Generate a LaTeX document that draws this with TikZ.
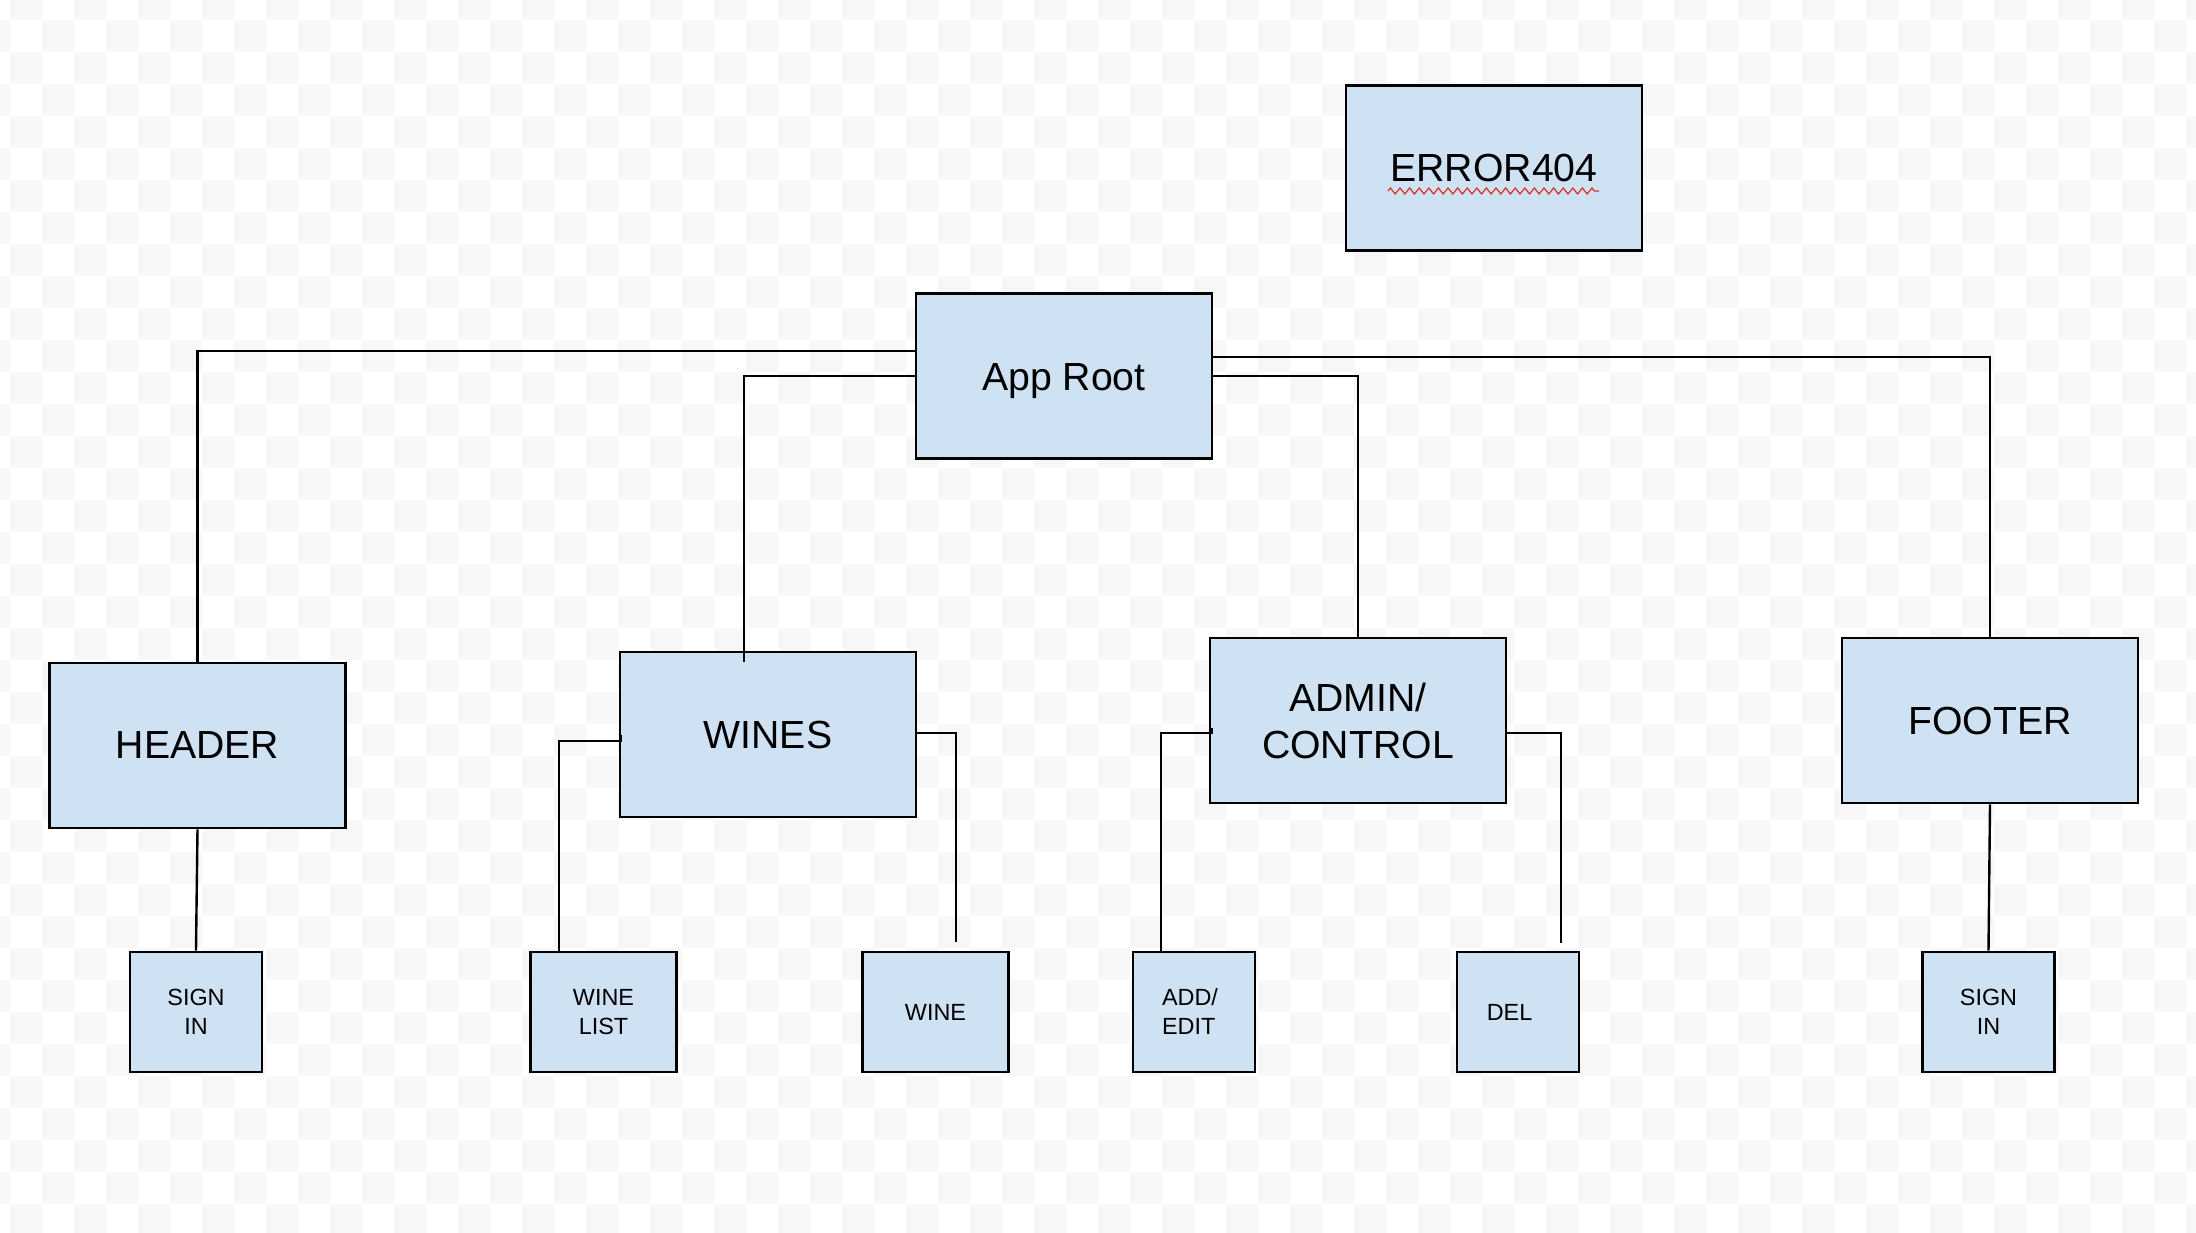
\documentclass[tikz,border=0pt]{standalone}
\usepackage{fontspec}
\setmainfont{Liberation Sans}
\usetikzlibrary{decorations.pathmorphing}
\definecolor{boxfill}{HTML}{CFE2F3}
\definecolor{checkgray}{HTML}{F7F7F7}
\definecolor{spellred}{HTML}{D93025}
\begin{document}
\begin{tikzpicture}[x=0.5pt,y=-0.5pt,
  bigbox/.style={draw=black, line width=1.4pt, fill=boxfill, inner sep=0pt,
    minimum width=148pt, minimum height=82.5pt, align=center,
    font=\fontsize{19.6}{23.5}\selectfont},
  smallbox/.style={draw=black, line width=1.4pt, fill=boxfill, inner sep=0pt,
    minimum height=60pt, align=center, font=\fontsize{11.7}{14.5}\selectfont},
  conn/.style={draw=black, line width=1.2pt}]
% background
\useasboundingbox (0,0) rectangle (2196,1232);
\begin{scope}
\clip (0,0) rectangle (2196,1232);
\fill[white] (0,0) rectangle (2196,1232);
\foreach \i in {0,...,69}{
  \foreach \j in {0,...,38}{
    \ifodd\numexpr\i+\j\relax
      \fill[checkgray] (-22+32*\i,-12+32*\j) rectangle ++(32,32);
    \fi
  }
}
\end{scope}
% boxes
\node[bigbox] (err) at (1494,168) {ERROR404};
\node[bigbox, text height=14pt, text depth=0pt] (root) at (1064,376) {App Root};
\node[bigbox] (header) at (197.5,745.5) {HEADER};
\node[bigbox] (wines) at (768,734.5) {WINES};
\node[bigbox] (admin) at (1358,720.5) {ADMIN/\\CONTROL};
\node[bigbox] (footer) at (1990,720.5) {FOOTER};
\node[smallbox, minimum width=66pt] (sign1) at (196,1012) {SIGN\\IN};
\node[smallbox, minimum width=73pt] (winelist) at (603.5,1012) {WINE\\LIST};
\node[smallbox, minimum width=73pt] (wine) at (935.5,1012) {WINE};
\node[smallbox, minimum width=61pt, align=left] (addedit) at (1194,1012) {ADD/\hspace*{4pt}\\EDIT};
\node[smallbox, minimum width=61pt] (del) at (1518,1012) {DEL\hspace*{8.5pt}};
\node[smallbox, minimum width=66pt] (sign2) at (1988.5,1012) {SIGN\\IN};
% spell-check squiggle
\draw[spellred, line width=0.6pt, decorate,
  decoration={zigzag, segment length=4.8pt, amplitude=1.5pt}]
  ([xshift=-53pt,yshift=-11.5pt]err.center) -- ([xshift=52.5pt,yshift=-11.5pt]err.center);
% connectors
\draw[conn] ([yshift=12.5pt]root.west) -| (header.north);
\draw[conn] (root.west) -| ([xshift=-12pt,yshift=-5.5pt]wines.north);
\draw[conn] ([yshift=9.5pt]root.east) -| (footer.north);
\draw[conn] (root.east) -| ([yshift=-1pt]admin.north);
\draw[conn] (header.south) -- (sign1.north);
\draw[conn] ([xshift=1pt]wines.west) -- ++(0,6.5) -| ([xshift=-22.25pt]winelist.north);
\draw[conn] ([yshift=0.75pt]wines.east) -| ([xshift=10.25pt,yshift=4.5pt]wine.north);
\draw[conn] ([xshift=1.5pt,yshift=-3.75pt]admin.west) -- ++(0,5) -| ([xshift=-16.5pt]addedit.north);
\draw[conn] ([yshift=-6.25pt]admin.east) -| ([xshift=21.5pt,yshift=4pt]del.north);
\draw[conn] (footer.south) -- (sign2.north);
\end{tikzpicture}
\end{document}
